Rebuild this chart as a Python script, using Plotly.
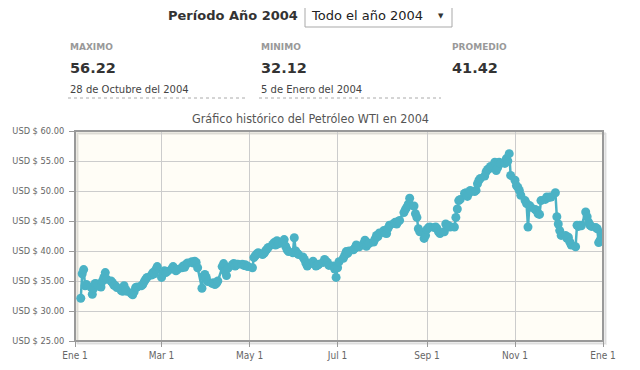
import pandas as pd
import plotly.graph_objects as go

# ---------------- data ----------------
start_date = "2004-01-05"
end_date = "2004-12-31"
wti_prices = [
    32.12, 36.2, 36.9, 34.2, 34.4,
    34.0, 32.8, 33.8, 34.6, 34.5,
    34.0, 35.0, 35.6, 36.4, 35.3,
    35.0, 34.7, 34.3, 34.2, 33.9,
    33.4, 33.3, 34.2, 33.6, 33.3,
    32.9, 32.7, 33.2, 33.9, 34.0,
    34.2, 34.4, 34.9, 35.3, 35.6,
    36.0, 36.4, 36.2, 36.9, 37.4,
    35.6, 36.2, 36.7, 36.4, 36.6,
    37.0, 37.4, 37.1, 36.7, 36.9,
    37.2, 37.5, 37.3, 37.8, 38.0,
    38.2, 38.0, 38.3, 38.1, 37.2,
    33.8, 35.8, 36.1, 35.6, 34.9,
    34.6, 34.7, 34.4, 34.6, 35.0,
    37.4, 37.9, 36.6, 35.9, 37.1,
    37.7, 37.9, 37.5, 37.8, 37.8,
    37.8, 37.6, 37.7, 37.5, 37.4,
    37.2, 38.9, 39.2, 39.5, 39.7,
    39.4, 39.6, 40.0, 40.3, 40.6,
    41.1, 41.4, 41.0, 41.7, 41.2,
    41.5, 41.9, 40.8, 40.2, 39.9,
    39.7, 42.2, 40.0, 39.6, 39.4,
    39.0, 38.6, 38.0, 37.5, 37.8,
    38.3, 37.9, 37.5, 37.6, 37.8,
    38.1, 38.6, 38.3, 38.1, 37.6,
    37.5, 37.0, 35.6, 37.2, 38.2,
    38.8, 39.3, 39.9, 39.6, 40.0,
    40.2, 40.5, 41.0, 40.8, 40.7,
    41.2, 41.8, 40.8, 41.2, 41.3,
    41.5, 42.0, 42.6, 42.4, 43.0,
    43.4, 43.0, 42.9, 43.8, 44.3,
    44.6, 44.8, 44.5, 44.9, 45.1,
    46.4, 46.9, 47.3, 47.8, 48.8,
    47.5, 46.2, 45.6, 43.7, 43.2,
    42.1, 42.6, 43.6, 43.9, 44.0,
    43.9, 44.0, 43.7, 43.2, 42.9,
    43.2, 44.5, 44.3, 44.2, 44.0,
    44.0, 45.6, 47.0, 48.4, 48.6,
    49.6, 49.7, 49.1, 49.6, 50.1,
    49.9, 50.1, 51.2, 51.8, 52.1,
    52.5, 53.2, 53.6, 53.7, 54.1,
    54.8, 53.4, 53.9, 54.8, 54.6,
    54.6, 55.4, 55.0, 56.22, 52.6,
    51.8, 50.9, 50.6, 50.1, 49.3,
    48.4, 47.9, 44.0, 47.6, 47.3,
    46.9, 46.8, 46.2, 46.1, 48.4,
    48.6, 49.0, 48.9, 49.0, 49.0,
    49.7, 45.7, 44.5, 43.4, 42.6,
    42.6, 42.1, 42.3, 41.5, 41.0,
    40.7, 44.3, 44.1, 44.3, 44.2,
    46.5, 45.7, 44.8, 44.3, 44.1,
    43.9, 43.7, 41.4, 41.8, 43.0,
]
x_tick_values = ["2004-01-01", "2004-03-01", "2004-05-01", "2004-07-01",
                 "2004-09-01", "2004-11-01", "2005-01-01"]
x_tick_labels = ["Ene 1", "Mar 1", "May 1", "Jul 1", "Sep 1", "Nov 1", "Ene 1"]
y_tick_values = [25, 30, 35, 40, 45, 50, 55, 60]
y_tick_labels = ["USD $ %.2f" % v for v in y_tick_values]

title_text = "Gráfico histórico del Petróleo WTI en 2004"
period_label = "Período Año 2004"
select_label = "Todo el año 2004"
stat_names = ["MAXIMO", "MINIMO", "PROMEDIO"]
stat_values = ["56.22", "32.12", "41.42"]
stat_dates = ["28 de Octubre del 2004", "5 de Enero del 2004", ""]

dates = pd.bdate_range(start_date, end_date)

# ---------------- layout helpers ----------------
OFF = 8  # page body margin of the html page
W, H = 640 - OFF, 370 - OFF
L, R, T, B = 75 - OFF, 603 - OFF, 131 - OFF, 341 - OFF


def px(x):  # x given in window pixels
    return (x - OFF - L) / (R - L)


def py(y):  # y given in window pixels
    return (B - (y - OFF)) / (B - T)


SERIES = "#4bb2c5"
NARROW = "DejaVu Sans Condensed, Liberation Sans Narrow, Arial Narrow, sans-serif"
BODY = "DejaVu Sans, Verdana, sans-serif"

fig = go.Figure()
fig.add_trace(go.Scatter(
    x=dates, y=wti_prices, mode="lines+markers",
    line=dict(color=SERIES, width=2.5),
    marker=dict(color=SERIES, size=9, line=dict(width=0)),
    hoverinfo="x+y", showlegend=False,
))

shapes = []
# border shadow
for off, alpha in [(3.0, 0.06), (2.0, 0.08)]:
    shapes.append(dict(type="rect", xref="paper", yref="paper",
                       x0=px(75 + off), x1=px(603 + off), y0=py(341 + off), y1=py(131 + off),
                       line=dict(color="rgba(0,0,0,%s)" % alpha, width=2), layer="below"))
shapes.append(dict(type="rect", xref="paper", yref="paper", x0=0, x1=1, y0=0, y1=1,
                   line=dict(color="#999999", width=2), layer="above"))
# select box
shapes.append(dict(type="rect", xref="paper", yref="paper",
                   x0=px(305), x1=px(452), y0=py(27), y1=py(5),
                   line=dict(color="#a9a9a9", width=1), fillcolor="white"))
# dotted underlines
for x0, x1 in [(68, 248), (259, 441)]:
    shapes.append(dict(type="line", xref="paper", yref="paper",
                       x0=px(x0), x1=px(x1), y0=py(98), y1=py(98),
                       line=dict(color="#aaaaaa", width=1, dash="dot")))

ann = []
ann.append(dict(text=title_text, x=px(310), y=py(118), xref="paper", yref="paper",
                xanchor="center", yanchor="middle", showarrow=False,
                font=dict(family=NARROW, size=12.5, color="#555555")))
ann.append(dict(text="<b>%s</b>" % period_label, x=px(300), y=py(16), xref="paper", yref="paper",
                xanchor="right", yanchor="middle", showarrow=False,
                font=dict(family=BODY, size=13, color="#333333")))
ann.append(dict(text=select_label, x=px(309), y=py(16), xref="paper", yref="paper",
                xanchor="left", yanchor="middle", showarrow=False,
                font=dict(family=BODY, size=13, color="#222222")))
ann.append(dict(text="▼", x=px(441), y=py(16), xref="paper", yref="paper",
                xanchor="center", yanchor="middle", showarrow=False,
                font=dict(family=BODY, size=7, color="#333333")))
stat_x = [68, 259, 450]
for sx, name, val, dt in zip(stat_x, stat_names, stat_values, stat_dates):
    ann.append(dict(text="<b>%s</b>" % name, x=px(sx), y=py(47), xref="paper", yref="paper",
                    xanchor="left", yanchor="middle", showarrow=False,
                    font=dict(family=BODY, size=9, color="#999999")))
    ann.append(dict(text="<b>%s</b>" % val, x=px(sx), y=py(68), xref="paper", yref="paper",
                    xanchor="left", yanchor="middle", showarrow=False,
                    font=dict(family=BODY, size=14.5, color="#333333")))
    if dt:
        ann.append(dict(text=dt, x=px(sx), y=py(89), xref="paper", yref="paper",
                        xanchor="left", yanchor="middle", showarrow=False,
                        font=dict(family=BODY, size=10, color="#444444")))

fig.update_layout(
    width=W, height=H,
    margin=dict(l=L, r=W - R, t=T, b=H - B, pad=0, autoexpand=False),
    paper_bgcolor="white", plot_bgcolor="#fffdf6",
    shapes=shapes, annotations=ann,
    xaxis=dict(type="date", range=["2004-01-01", "2005-01-01"],
               tickvals=x_tick_values, ticktext=x_tick_labels,
               showgrid=True, gridcolor="#cccccc", gridwidth=1,
               ticks="outside", ticklen=5, tickcolor="#999999",
               tickfont=dict(family=NARROW, size=10, color="#666666"),
               zeroline=False, showline=False, fixedrange=True, automargin=False),
    yaxis=dict(range=[25, 60], tickvals=y_tick_values, ticktext=y_tick_labels,
               showgrid=True, gridcolor="#cccccc", gridwidth=1,
               ticks="outside", ticklen=5, tickcolor="#999999", ticklabelstandoff=3,
               tickfont=dict(family=NARROW, size=9.2, color="#666666"),
               zeroline=False, showline=False, fixedrange=True, automargin=False),
)

fig.write_html("out.html", config={"displayModeBar": False})
